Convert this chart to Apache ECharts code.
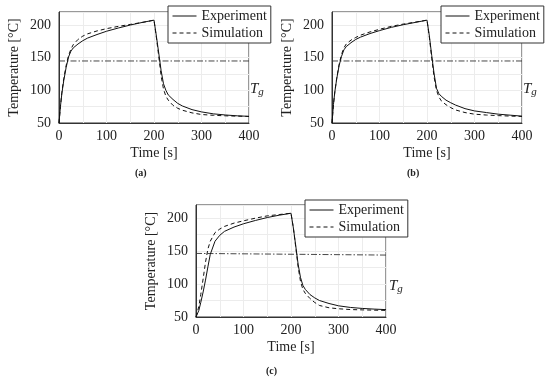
<!DOCTYPE html>
<html><head><meta charset="utf-8">
<script src="https://cdn.jsdelivr.net/npm/echarts@6/dist/echarts.min.js"></script>
<style>html,body{margin:0;padding:0;background:#fff}#c{width:550px;height:381px}</style>
</head><body><div id="c"></div>
<script>
const panels = ['(a)', '(b)', '(c)'];
const seriesNames = ['Experiment', 'Simulation'];
const xTicks = [0, 100, 200, 300, 400];
const yTicks = [50, 100, 150, 200];
const time = [0,3,6,10,15,20,25,30,40,50,60,80,100,125,150,175,200,205,210,215,220,225,230,240,250,260,280,300,325,350,375,400];
const expA = [50,75,95,115,135,151,160,165,171,176,180,185.5,190.5,195.5,200,204,207.5,183,157,130,110,100,93,86,80,76,70.5,67,64,62.3,61,60.2];
const simA = [50,75,97,118,138,153,163,170,178,183,186.5,191,194.5,198,201,204,207.5,181,152,122,102,91,85,77,72.5,69.5,65.5,63,61.8,61,60.5,60];
const expB = [50,78,98,118,138,152,162,167,173,178,181.5,187,191.5,196.5,200.5,204,207.5,183,153,125,103,95,91,85,81,77.5,72,68.5,66,63.5,62,60.5];
const simB = [50,78,98,119,140,155,165,171,177,181,184.5,189.5,193.5,198,201.5,204.5,207.5,181,149,120,100,90,84,78,73.5,70,66,63.5,62.2,61.3,60.6,60];
const expC = [50,51,60,72,88,106,126,145,165,174,180,186.5,191.5,196.5,201,204.5,207.5,185,158,130,110,98,92,84,79,75,70.5,67,64.5,63,62,61.2];
const simC = [50,52,66,84,108,133,153,165,178,183.5,187.5,192.5,196,200,203.5,205.5,207.5,185,156,126,104,92,86,78,72,67.5,64,62.5,61.3,60.8,60.4,60];
const tgTime = [0, 400];
const tgA = [145, 145];
const tgB = [145, 145];
const tgC = [146.5, 144];

const FONT = '"Liberation Serif", "DejaVu Serif", serif';
const zip = (t, v) => t.map((x, i) => [x, v[i]]);
const grids = [
  {left: 59, top: 12, width: 190, height: 111},
  {left: 332, top: 12, width: 190, height: 111},
  {left: 196, top: 205, width: 190, height: 112}
];
const data = [[expA, simA, tgA], [expB, simB, tgB], [expC, simC, tgC]];
const legendPos = [{left: 168, top: 6}, {left: 441, top: 6}, {left: 305, top: 200}];
const tgPos = [[250, 82], [523, 82], [389, 279]];
const capPos = [[135, 168], [407, 168], [266, 366]];

const xAxis = [], yAxis = [], series = [], legend = [], graphic = [];
grids.forEach((g, i) => {
  g.show = true; g.borderColor = '#333'; g.borderWidth = 1; g.backgroundColor = 'transparent';
  xAxis.push({gridIndex: i, type: 'value', min: 0, max: 400, interval: 50,
    name: 'Time [s]', nameLocation: 'middle', nameGap: 23,
    nameTextStyle: {fontFamily: FONT, fontSize: 14, color: '#222'},
    axisLine: {lineStyle: {color: '#333'}}, axisTick: {show: false},
    axisLabel: {fontFamily: FONT, fontSize: 14, color: '#222', margin: 6,
      formatter: v => xTicks.includes(v) ? String(v) : ''},
    splitLine: {lineStyle: {color: '#ececec', width: 1}}});
  yAxis.push({gridIndex: i, type: 'value', min: 50, max: 220, interval: 25,
    name: 'Temperature [°C]', nameLocation: 'middle', nameGap: 38,
    nameTextStyle: {fontFamily: FONT, fontSize: 14, color: '#222'},
    axisLine: {lineStyle: {color: '#333'}}, axisTick: {show: false},
    axisLabel: {fontFamily: FONT, fontSize: 14, color: '#222', margin: 8,
      formatter: v => yTicks.includes(v) ? String(v) : ''},
    splitLine: {lineStyle: {color: '#ececec', width: 1}}});
  const [e, s, tg] = data[i];
  series.push({name: seriesNames[0], type: 'line', xAxisIndex: i, yAxisIndex: i, data: zip(time, e),
    symbol: 'none', lineStyle: {color: '#111', width: 1}, itemStyle: {color: '#111'}, z: 3});
  series.push({name: seriesNames[1], type: 'line', xAxisIndex: i, yAxisIndex: i, data: zip(time, s),
    symbol: 'none', lineStyle: {color: '#111', width: 1, type: [4, 3]}, itemStyle: {color: '#111'}, z: 3});
  series.push({name: 'Tg' + i, type: 'line', xAxisIndex: i, yAxisIndex: i, data: zip(tgTime, tg),
    symbol: 'none', lineStyle: {color: '#333', width: 0.9, type: [6, 2, 1.5, 2]}, z: 2, silent: true});
  legend.push({data: seriesNames, orient: 'vertical', left: legendPos[i].left, top: legendPos[i].top,
    backgroundColor: '#fff', borderColor: '#333', borderWidth: 1, padding: [3, 4, 3, 4],
    itemWidth: 24, itemHeight: 10, itemGap: 3, itemStyle: {opacity: 0}, lineStyle: {width: 1},
    textStyle: {fontFamily: FONT, fontSize: 14, color: '#222'}, z: 10});
  graphic.push({type: 'text', left: tgPos[i][0], top: tgPos[i][1], z: 10,
    style: {text: '{t|T}{s|g}', rich: {
      t: {fontFamily: FONT, fontStyle: 'italic', fontSize: 15, fill: '#222', color: '#222'},
      s: {fontFamily: FONT, fontStyle: 'italic', fontSize: 11, fill: '#222', color: '#222', verticalAlign: 'bottom', padding: [6, 0, 0, 0]}
    }}});
  graphic.push({type: 'text', left: capPos[i][0], top: capPos[i][1], z: 10,
    style: {text: panels[i], fontFamily: FONT, fontWeight: 'bold', fontSize: 10, fill: '#222'}});
});

const chart = echarts.init(document.getElementById('c'), null, {renderer: 'canvas'});
chart.setOption({animation: false, backgroundColor: '#fff', grid: grids, xAxis, yAxis, series, legend, graphic});
</script></body></html>
